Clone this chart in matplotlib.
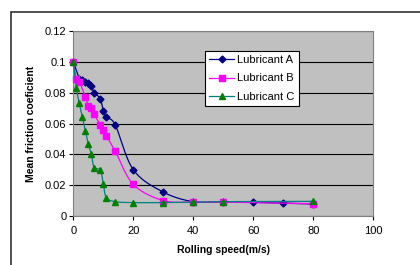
import matplotlib
matplotlib.use("Agg")
import matplotlib.pyplot as plt
import numpy as np
from matplotlib.patches import Rectangle

# data
speed_a = [0, 2, 3, 4, 5, 6, 7, 9, 10, 11, 14, 20, 30, 40, 50, 60, 70, 80]
fric_a = [0.1, 0.089, 0.088, 0.087, 0.086, 0.084, 0.080, 0.076, 0.068, 0.064,
          0.059, 0.030, 0.0155, 0.0093, 0.0093, 0.0089, 0.0083, 0.0078]

speed_b = [0, 1, 2, 4, 5, 6, 7, 9, 10, 11, 14, 20, 30, 40, 50, 80]
fric_b = [0.1, 0.089, 0.087, 0.0775, 0.0715, 0.070, 0.066, 0.059, 0.0555,
          0.052, 0.042, 0.0205, 0.010, 0.009, 0.009, 0.008]

speed_c = [0, 1, 2, 3, 4, 5, 6, 7, 9, 10, 11, 14, 20, 30, 40, 50, 80]
fric_c = [0.1, 0.083, 0.073, 0.064, 0.055, 0.047, 0.040, 0.031, 0.030, 0.021,
          0.012, 0.0093, 0.0087, 0.0087, 0.009, 0.0093, 0.0095]

x_ticks = [0, 20, 40, 60, 80, 100]
y_ticks = [0, 0.02, 0.04, 0.06, 0.08, 0.1, 0.12]
y_tick_labels = ["0", "0.02", "0.04", "0.06", "0.08", "0.1", "0.12"]


def smooth(xs, ys, n=20):
    """Catmull-Rom curve through the points (like Excel's smoothed line)."""
    p = np.column_stack([xs, ys]).astype(float)
    p = np.vstack([p[0], p, p[-1]])
    out = []
    t = np.linspace(0, 1, n, endpoint=False)[:, None]
    for i in range(1, len(p) - 2):
        p0, p1, p2, p3 = p[i - 1], p[i], p[i + 1], p[i + 2]
        seg = 0.5 * ((2 * p1) + (-p0 + p2) * t
                     + (2 * p0 - 5 * p1 + 4 * p2 - p3) * t ** 2
                     + (-p0 + 3 * p1 - 3 * p2 + p3) * t ** 3)
        out.append(seg)
    out.append(p[-2][None, :])
    out = np.vstack(out)
    return out[:, 0], out[:, 1]


plt.rcParams['font.family'] = ['Liberation Sans', 'DejaVu Sans']

fig = plt.figure(figsize=(4.2, 2.65), dpi=100)
fig.patch.set_facecolor("white")

# outer chart frame (only left and top edges are visible)
fig.patches.append(Rectangle((11 / 420, -0.1), 1.2, 1 - 12 / 265 + 0.1,
                             transform=fig.transFigure, fill=False,
                             edgecolor="#333333", linewidth=1.2))

ax = fig.add_axes([73.3 / 420, 1 - 216 / 265, 300 / 420, 185 / 265])
ax.set_facecolor("#C0C0C0")
for s in ax.spines.values():
    s.set_color("#808080")
    s.set_linewidth(0.8)

ax.set_xlim(0, 100)
ax.set_ylim(0, 0.12)
ax.set_xticks(x_ticks)
ax.set_yticks(y_ticks)
ax.set_yticklabels(y_tick_labels)
ax.tick_params(direction="out", length=3, width=0.8, color="black",
               labelsize=8, pad=2)
ax.tick_params(axis="x", pad=4)
ax.yaxis.grid(True, color="black", linewidth=0.8)
ax.set_axisbelow(True)

series = [
    (speed_a, fric_a, "#000080", "#000080", "D", 3.5, "Lubricant A"),
    (speed_b, fric_b, "#FF00FF", "#FF00FF", "s", 4.5, "Lubricant B"),
    (speed_c, fric_c, "#008080", "#008000", "^", 5, "Lubricant C"),
]
for i, (xs, ys, lc, mc, mk, ms, lab) in enumerate(series):
    sx, sy = smooth(xs, ys)
    ax.plot(sx, sy, color=lc, linewidth=0.9, zorder=3 + i)
    ax.plot(xs, ys, linestyle="none", marker=mk, markersize=ms,
            color=mc, markeredgecolor=mc, zorder=3 + i, clip_on=False)
    ax.plot([], [], color=lc, linewidth=0.9, marker=mk, markersize=ms,
            markerfacecolor=mc, markeredgecolor=mc, label=lab)

ax.set_xlabel("Rolling speed(m/s)", fontsize=7.5, fontweight="bold", labelpad=7)
ax.set_ylabel("Mean friction coeficient", fontsize=7.5, fontweight="bold",
              labelpad=6)

leg = ax.legend(loc="upper left", bbox_to_anchor=(205 / 420, 1 - 50.7 / 265),
                bbox_transform=fig.transFigure, fontsize=8, frameon=True,
                fancybox=False, edgecolor="black", framealpha=1,
                borderpad=0.4, handlelength=2.2, handletextpad=0.3,
                labelspacing=0.75, borderaxespad=0)
leg.get_frame().set_linewidth(0.8)

fig.savefig("out.png", dpi=100)
